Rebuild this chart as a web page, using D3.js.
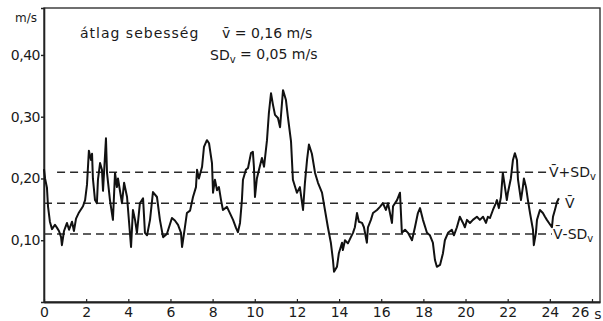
<!DOCTYPE html>
<html>
<head>
<meta charset="utf-8">
<script src="https://cdn.jsdelivr.net/npm/d3@7"></script>
<style>
  body { margin: 0; background: #fff; }
  svg { display: block; }
  text { font-family: "DejaVu Sans", sans-serif; fill: #1a1a1a; }
</style>
</head>
<body>
<div id="chart"></div>
<script>
// time (s) and speed (m/s)
const times = [
  0.00, 0.05, 0.14, 0.19, 0.28, 0.38, 0.52, 0.62, 0.71, 0.81, 0.85, 0.95, 1.09, 1.19, 1.33, 1.42,
  1.52, 1.66, 1.85, 1.95, 2.04, 2.13, 2.23, 2.28, 2.32, 2.42, 2.51, 2.56, 2.66, 2.75, 2.80, 2.94,
  2.99, 3.13, 3.27, 3.37, 3.46, 3.51, 3.70, 3.80, 3.94, 4.13, 4.22, 4.32, 4.41, 4.55, 4.70, 4.79,
  4.89, 5.03, 5.17, 5.36, 5.50, 5.65, 5.83, 6.07, 6.21, 6.36, 6.50, 6.55, 6.69, 6.78, 6.93, 7.07,
  7.21, 7.26, 7.35, 7.50, 7.59, 7.73, 7.83, 7.97, 8.02, 8.11, 8.21, 8.30, 8.40, 8.49, 8.68, 8.82,
  8.97, 9.11, 9.20, 9.30, 9.39, 9.44, 9.58, 9.68, 9.82, 9.91, 9.96, 10.01, 10.10, 10.20, 10.34, 10.44,
  10.58, 10.67, 10.77, 10.86, 10.96, 11.10, 11.20, 11.34, 11.48, 11.57, 11.72, 11.81, 12.00, 12.14, 12.29, 12.38,
  12.48, 12.57, 12.71, 12.86, 13.00, 13.19, 13.33, 13.47, 13.61, 13.71, 13.76, 13.90, 13.99, 14.14, 14.18, 14.28,
  14.42, 14.56, 14.66, 14.75, 14.85, 14.94, 15.09, 15.18, 15.32, 15.37, 15.51, 15.61, 15.80, 15.94, 16.08, 16.22,
  16.32, 16.51, 16.56, 16.75, 16.89, 16.98, 17.13, 17.27, 17.46, 17.60, 17.74, 17.84, 17.98, 18.17, 18.31, 18.45,
  18.55, 18.64, 18.79, 18.93, 19.02, 19.17, 19.35, 19.45, 19.59, 19.73, 19.88, 19.97, 20.07, 20.21, 20.35, 20.54,
  20.68, 20.83, 20.97, 21.06, 21.16, 21.30, 21.44, 21.49, 21.58, 21.68, 21.77, 21.87, 21.96, 22.01, 22.15, 22.25,
  22.34, 22.44, 22.49, 22.63, 22.72, 22.77, 22.87, 22.96, 23.06, 23.20, 23.24, 23.34, 23.39, 23.53, 23.67, 23.77,
  23.86, 23.96, 24.10, 24.15, 24.24, 24.34, 24.43
];
const speeds = [
  0.215, 0.200, 0.185, 0.155, 0.130, 0.118, 0.125, 0.120, 0.115, 0.105, 0.092, 0.115, 0.128, 0.117, 0.130, 0.115,
  0.135, 0.145, 0.155, 0.165, 0.190, 0.245, 0.230, 0.240, 0.200, 0.165, 0.160, 0.198, 0.225, 0.214, 0.180, 0.265,
  0.209, 0.165, 0.133, 0.209, 0.186, 0.200, 0.160, 0.193, 0.170, 0.089, 0.149, 0.133, 0.112, 0.160, 0.168, 0.112,
  0.108, 0.133, 0.178, 0.170, 0.133, 0.105, 0.110, 0.136, 0.132, 0.125, 0.112, 0.089, 0.122, 0.144, 0.148, 0.170,
  0.186, 0.214, 0.200, 0.219, 0.251, 0.262, 0.257, 0.225, 0.177, 0.198, 0.181, 0.186, 0.165, 0.149, 0.154, 0.144,
  0.133, 0.120, 0.113, 0.128, 0.165, 0.198, 0.214, 0.217, 0.241, 0.243, 0.219, 0.170, 0.200, 0.214, 0.233, 0.219,
  0.262, 0.306, 0.338, 0.320, 0.303, 0.298, 0.283, 0.343, 0.327, 0.300, 0.260, 0.198, 0.177, 0.186, 0.149, 0.193,
  0.230, 0.255, 0.240, 0.209, 0.193, 0.177, 0.149, 0.121, 0.096, 0.068, 0.049, 0.057, 0.079, 0.096, 0.084, 0.100,
  0.095, 0.105, 0.112, 0.121, 0.144, 0.130, 0.128, 0.121, 0.096, 0.121, 0.133, 0.144, 0.149, 0.154, 0.160, 0.149,
  0.160, 0.128, 0.155, 0.165, 0.177, 0.112, 0.117, 0.112, 0.100, 0.121, 0.144, 0.152, 0.133, 0.112, 0.108, 0.096,
  0.068, 0.057, 0.060, 0.079, 0.100, 0.112, 0.117, 0.108, 0.121, 0.138, 0.128, 0.121, 0.133, 0.128, 0.133, 0.138,
  0.133, 0.138, 0.128, 0.138, 0.136, 0.149, 0.160, 0.165, 0.152, 0.170, 0.209, 0.186, 0.165, 0.177, 0.200, 0.230,
  0.241, 0.230, 0.198, 0.165, 0.186, 0.200, 0.186, 0.165, 0.144, 0.117, 0.092, 0.112, 0.133, 0.149, 0.144, 0.138,
  0.133, 0.128, 0.121, 0.138, 0.149, 0.162, 0.168
];

const meanSpeed = 0.16;
const sdSpeed = 0.05;
const xTicks = [0, 2, 4, 6, 8, 10, 12, 14, 16, 18, 20, 22, 24, 26];
const yTicks = [0.1, 0.2, 0.3, 0.4];

const width = 603, height = 321;
const margin = { top: 8, right: 3, bottom: 19, left: 44 };

const svg = d3.select('#chart')
  .append('svg')
  .attr('width', width)
  .attr('height', height);

const x = d3.scaleLinear()
  .domain([0, 26.38])
  .range([margin.left, width - margin.right]);

const y = d3.scaleLinear()
  .domain([0, 0.476])
  .range([height - margin.bottom, margin.top]);

const fmt = d => d3.format('.2f')(d).replace('.', ',');

// frame
svg.append('rect')
  .attr('x', margin.left)
  .attr('y', margin.top)
  .attr('width', width - margin.right - margin.left)
  .attr('height', height - margin.bottom - margin.top)
  .style('fill', 'none')
  .style('stroke', '#333')
  .style('stroke-width', 1.4);

// y axis
const yAxis = svg.append('g')
  .attr('transform', `translate(${margin.left},0)`)
  .call(d3.axisLeft(y).tickValues(yTicks).tickFormat(fmt).tickSize(3).tickPadding(1));
yAxis.select('.domain').style('stroke', '#222').style('stroke-width', 1.6);
yAxis.selectAll('.tick line').style('stroke', '#222').style('stroke-width', 1.4);
yAxis.selectAll('.tick text')
  .style('font-size', '14px')
  .style('letter-spacing', '-0.5px');

// x axis
const xAxis = svg.append('g')
  .attr('transform', `translate(0,${height - margin.bottom})`)
  .call(d3.axisBottom(x).tickValues(xTicks).tickFormat(d3.format('d')).tickSizeInner(-3).tickSizeOuter(0).tickPadding(5));
xAxis.select('.domain').style('stroke', '#222').style('stroke-width', 1.8);
xAxis.selectAll('.tick line').style('stroke', '#222').style('stroke-width', 1.2);
xAxis.selectAll('.tick text')
  .style('font-size', '14px')
  .attr('dx', d => d === 26 ? -12 : 0);

svg.append('text')
  .attr('x', 598)
  .attr('y', height - margin.bottom + 17)
  .attr('text-anchor', 'middle')
  .style('font-size', '14px')
  .text('s');

svg.append('text')
  .attr('x', 26)
  .attr('y', 22)
  .attr('text-anchor', 'middle')
  .style('font-size', '12px')
  .text('m/s');

// reference lines: mean, mean ± SD
const refLines = [
  { v: meanSpeed + sdSpeed, x0: 0.62, x1: 23.95 },
  { v: meanSpeed, x0: 0, x1: 24.6 },
  { v: meanSpeed - sdSpeed, x0: 0, x1: 24.1 }
];
svg.selectAll('.ref')
  .data(refLines)
  .join('line')
  .attr('class', 'ref')
  .attr('x1', d => x(d.x0))
  .attr('x2', d => x(d.x1))
  .attr('y1', d => y(d.v))
  .attr('y2', d => y(d.v))
  .style('stroke', '#2a2a2a')
  .style('stroke-width', 1.6)
  .style('stroke-dasharray', '8,5');

// speed trace
const series = times.map((t, i) => ({ t, v: speeds[i] }));
svg.append('path')
  .datum(series)
  .attr('d', d3.line().x(d => x(d.t)).y(d => y(d.v)))
  .style('fill', 'none')
  .style('stroke', '#111')
  .style('stroke-width', 2)
  .style('stroke-linejoin', 'round');

// right-hand labels
const vbar = 'V\u0304';
function refLabel(px, v, main, sub) {
  const t = svg.append('text')
    .attr('x', px)
    .attr('y', y(v))
    .attr('dy', '0.35em')
    .style('font-size', '14px');
  t.append('tspan').text(main);
  if (sub) {
    t.append('tspan').attr('dy', '0.3em').style('font-size', '10px').text(sub);
  }
}
refLabel(549, meanSpeed + sdSpeed, vbar + '+SD', 'v');
refLabel(565, meanSpeed, vbar, null);
refLabel(553, meanSpeed - sdSpeed, vbar + '-SD', 'v');

// annotation block
svg.append('text')
  .attr('x', 80)
  .attr('y', 38)
  .style('font-size', '14px')
  .style('letter-spacing', '1px')
  .text('átlag sebesség');

svg.append('text')
  .attr('x', 222)
  .attr('y', 38)
  .style('font-size', '14px')
  .text('v\u0304 = 0,16 m/s');

const sdText = svg.append('text')
  .attr('x', 210)
  .attr('y', 60)
  .style('font-size', '14px');
sdText.append('tspan').text('SD');
sdText.append('tspan').attr('dy', '0.3em').style('font-size', '10px').text('v');
sdText.append('tspan').attr('dy', '-0.3em').text(' = 0,05 m/s');
</script>
</body>
</html>
